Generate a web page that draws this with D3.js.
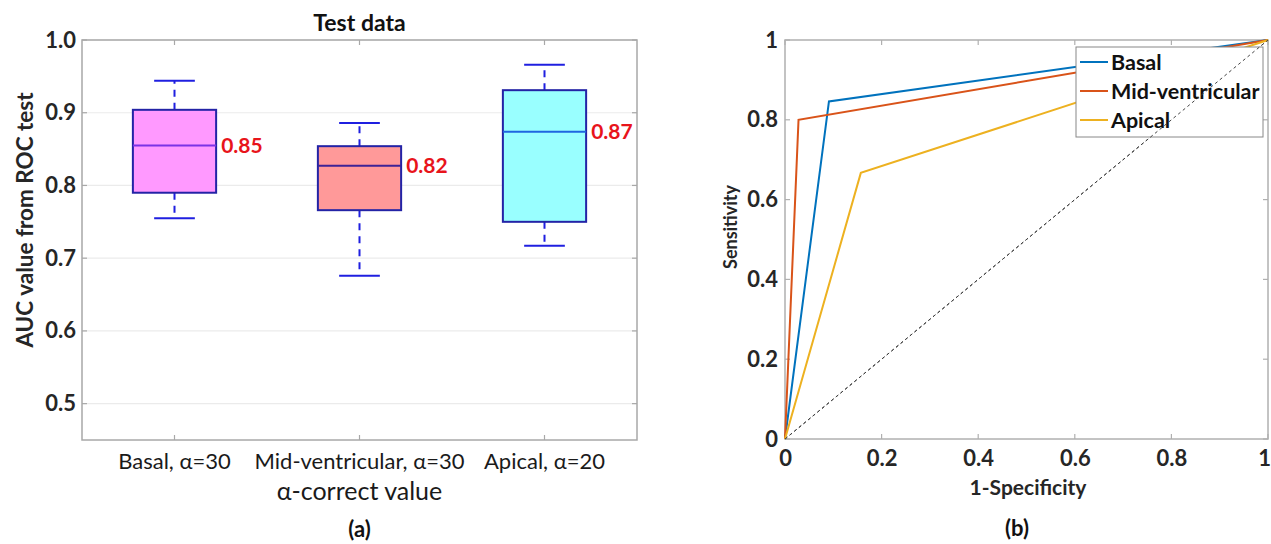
<!DOCTYPE html>
<html>
<head>
<meta charset="utf-8">
<script src="https://cdn.jsdelivr.net/npm/d3@7"></script>
<style>
  body { margin: 0; background: #fff; }
  svg { font-family: Lato, "Open Sans", sans-serif; }
</style>
</head>
<body>
<script>
var width = 1271,
    height = 544;

// box plot data (panel a)
var groups = ["Basal, α=30", "Mid-ventricular, α=30", "Apical, α=20"];
var whiskerLow  = [0.755, 0.676, 0.717];
var q1          = [0.790, 0.766, 0.750];
var median      = [0.855, 0.827, 0.874];
var q3          = [0.904, 0.854, 0.931];
var whiskerHigh = [0.944, 0.886, 0.966];
var medianLabels = ["0.85", "0.82", "0.87"];
var boxFill   = ["#ff99ff", "#ff9999", "#99ffff"];
var medianCol = ["#7a33e6", "#3d2396", "#1f66e0"];
var aTicks = [0.5, 0.6, 0.7, 0.8, 0.9, 1.0];

// ROC curves (panel b)
var rocNames = ["Basal", "Mid-ventricular", "Apical"];
var rocFpr = [[0, 0.091, 1], [0, 0.028, 1], [0, 0.157, 1]];
var rocTpr = [[0, 0.846, 1], [0, 0.800, 1], [0, 0.667, 1]];
var rocColors = ["#0072bd", "#d95319", "#edb120"];
var bTicks = [0, 0.2, 0.4, 0.6, 0.8, 1];

var svg = d3.select("body").append("svg")
    .attr("width", width)
    .attr("height", height);

// *****
// PANEL A
// *****
var ax = {left: 82, right: 637, top: 40, bottom: 440};
var x = d3.scaleLinear().domain([0.5, 3.5]).range([ax.left, ax.right]);
var y = d3.scaleLinear().domain([0.45, 1.0]).range([ax.bottom, ax.top]);

var ga = svg.append("g");

// grid
ga.selectAll("line.grid").data(aTicks).enter().append("line")
  .attr("x1", ax.left).attr("x2", ax.right)
  .attr("y1", function(d) { return y(d); }).attr("y2", function(d) { return y(d); })
  .attr("stroke", "#ebebeb").attr("stroke-width", 1.2);

// frame
ga.append("rect")
  .attr("x", ax.left).attr("y", ax.top)
  .attr("width", ax.right - ax.left).attr("height", ax.bottom - ax.top)
  .attr("fill", "none").attr("stroke", "#a8a8a8").attr("stroke-width", 1.5);

var yAxisA = d3.axisLeft(y).tickValues(aTicks).tickFormat(d3.format(".1f")).tickSize(0).tickPadding(6);
ga.append("g").attr("transform", "translate(" + ax.left + ",0)").call(yAxisA)
  .call(function(g) { g.select(".domain").remove(); })
  .selectAll("text").attr("font-size", 22).attr("font-weight", 700).attr("fill", "#262626")
  .attr("font-family", "Lato, sans-serif");

// small ticks inside, all four sides
ga.selectAll("line.tl").data(aTicks).enter().append("line")
  .attr("x1", ax.left).attr("x2", ax.left + 5)
  .attr("y1", function(d) { return y(d); }).attr("y2", function(d) { return y(d); })
  .attr("stroke", "#a8a8a8").attr("stroke-width", 1.2);
ga.selectAll("line.tr").data(aTicks).enter().append("line")
  .attr("x1", ax.right).attr("x2", ax.right - 5)
  .attr("y1", function(d) { return y(d); }).attr("y2", function(d) { return y(d); })
  .attr("stroke", "#a8a8a8").attr("stroke-width", 1.2);
ga.selectAll("line.tt").data([1, 2, 3]).enter().append("line")
  .attr("x1", function(d) { return x(d); }).attr("x2", function(d) { return x(d); })
  .attr("y1", ax.top).attr("y2", ax.top + 5)
  .attr("stroke", "#a8a8a8").attr("stroke-width", 1.2);
ga.selectAll("line.tb").data([1, 2, 3]).enter().append("line")
  .attr("x1", function(d) { return x(d); }).attr("x2", function(d) { return x(d); })
  .attr("y1", ax.bottom).attr("y2", ax.bottom - 5)
  .attr("stroke", "#a8a8a8").attr("stroke-width", 1.2);

// x category labels
ga.selectAll("text.cat").data(groups).enter().append("text")
  .attr("x", function(d, i) { return x(i + 1); })
  .attr("y", 469)
  .attr("text-anchor", "middle")
  .attr("font-size", 22).attr("fill", "#1a1a1a")
  .text(function(d) { return d; });

// boxes
var boxW = 0.45, capW = 0.22;
var box = ga.selectAll("g.box").data(groups).enter().append("g");

box.append("line") // upper whisker
  .attr("x1", function(d, i) { return x(i + 1); }).attr("x2", function(d, i) { return x(i + 1); })
  .attr("y1", function(d, i) { return y(q3[i]); }).attr("y2", function(d, i) { return y(whiskerHigh[i]); })
  .attr("stroke", "#1f1fe0").attr("stroke-width", 2).attr("stroke-dasharray", "7,6");
box.append("line") // lower whisker
  .attr("x1", function(d, i) { return x(i + 1); }).attr("x2", function(d, i) { return x(i + 1); })
  .attr("y1", function(d, i) { return y(q1[i]); }).attr("y2", function(d, i) { return y(whiskerLow[i]); })
  .attr("stroke", "#1f1fe0").attr("stroke-width", 2).attr("stroke-dasharray", "7,6");
box.append("line") // upper cap
  .attr("x1", function(d, i) { return x(i + 1 - capW / 2); }).attr("x2", function(d, i) { return x(i + 1 + capW / 2); })
  .attr("y1", function(d, i) { return y(whiskerHigh[i]); }).attr("y2", function(d, i) { return y(whiskerHigh[i]); })
  .attr("stroke", "#1f1fe0").attr("stroke-width", 2);
box.append("line") // lower cap
  .attr("x1", function(d, i) { return x(i + 1 - capW / 2); }).attr("x2", function(d, i) { return x(i + 1 + capW / 2); })
  .attr("y1", function(d, i) { return y(whiskerLow[i]); }).attr("y2", function(d, i) { return y(whiskerLow[i]); })
  .attr("stroke", "#1f1fe0").attr("stroke-width", 2);
box.append("rect")
  .attr("x", function(d, i) { return x(i + 1 - boxW / 2); })
  .attr("width", function() { return x(1 + boxW) - x(1); })
  .attr("y", function(d, i) { return y(q3[i]); })
  .attr("height", function(d, i) { return y(q1[i]) - y(q3[i]); })
  .attr("fill", function(d, i) { return boxFill[i]; })
  .attr("stroke", "#2323a6").attr("stroke-width", 2);
box.append("line") // median
  .attr("x1", function(d, i) { return x(i + 1 - boxW / 2); }).attr("x2", function(d, i) { return x(i + 1 + boxW / 2); })
  .attr("y1", function(d, i) { return y(median[i]); }).attr("y2", function(d, i) { return y(median[i]); })
  .attr("stroke", function(d, i) { return medianCol[i]; }).attr("stroke-width", 2);
box.append("text")
  .attr("x", function(d, i) { return x(i + 1 + boxW / 2) + 5; })
  .attr("y", function(d, i) { return y(median[i]); })
  .attr("dy", "0.36em")
  .attr("font-size", 21).attr("font-weight", 700).attr("fill", "#e8141b")
  .text(function(d, i) { return medianLabels[i]; });

ga.append("text")
  .attr("x", (ax.left + ax.right) / 2).attr("y", 31)
  .attr("text-anchor", "middle").attr("font-size", 23).attr("font-weight", 700).attr("fill", "#111")
  .text("Test data");

ga.append("text")
  .attr("transform", "translate(33,220) rotate(-90)")
  .attr("text-anchor", "middle").attr("font-size", 22.5).attr("font-weight", 700).attr("fill", "#262626")
  .text("AUC value from ROC test");

ga.append("text")
  .attr("x", x(2)).attr("y", 500)
  .attr("text-anchor", "middle").attr("font-size", 25).attr("fill", "#1a1a1a")
  .text("α-correct value");

ga.append("text")
  .attr("x", x(2)).attr("y", 537)
  .attr("text-anchor", "middle").attr("font-size", 22).attr("font-weight", 700).attr("fill", "#111")
  .text("(a)");

// *****
// PANEL B
// *****
var bx = {left: 785, right: 1268, top: 40, bottom: 439};
var xb = d3.scaleLinear().domain([0, 1]).range([bx.left, bx.right]);
var yb = d3.scaleLinear().domain([0, 1]).range([bx.bottom, bx.top]);

var gb = svg.append("g");

gb.append("rect")
  .attr("x", bx.left).attr("y", bx.top)
  .attr("width", bx.right - bx.left).attr("height", bx.bottom - bx.top)
  .attr("fill", "none").attr("stroke", "#b0b0b0").attr("stroke-width", 1.5);

gb.selectAll("line.tb").data(bTicks).enter().append("line")
  .attr("x1", function(d) { return xb(d); }).attr("x2", function(d) { return xb(d); })
  .attr("y1", bx.bottom).attr("y2", bx.bottom - 5)
  .attr("stroke", "#b0b0b0").attr("stroke-width", 1.2);
gb.selectAll("line.tt").data(bTicks).enter().append("line")
  .attr("x1", function(d) { return xb(d); }).attr("x2", function(d) { return xb(d); })
  .attr("y1", bx.top).attr("y2", bx.top + 5)
  .attr("stroke", "#b0b0b0").attr("stroke-width", 1.2);
gb.selectAll("line.tl").data(bTicks).enter().append("line")
  .attr("x1", bx.left).attr("x2", bx.left + 5)
  .attr("y1", function(d) { return yb(d); }).attr("y2", function(d) { return yb(d); })
  .attr("stroke", "#b0b0b0").attr("stroke-width", 1.2);
gb.selectAll("line.tr").data(bTicks).enter().append("line")
  .attr("x1", bx.right).attr("x2", bx.right - 5)
  .attr("y1", function(d) { return yb(d); }).attr("y2", function(d) { return yb(d); })
  .attr("stroke", "#b0b0b0").attr("stroke-width", 1.2);

var xAxisB = d3.axisBottom(xb).tickValues(bTicks).tickFormat(d3.format("~g")).tickSize(0).tickPadding(11);
gb.append("g").attr("transform", "translate(0," + bx.bottom + ")").call(xAxisB)
  .call(function(g) { g.select(".domain").remove(); })
  .selectAll("text").attr("font-size", 22).attr("font-weight", 700).attr("fill", "#262626")
  .attr("font-family", "Lato, sans-serif")
  .attr("dx", function(d) { return d === 1 ? -4 : 0; }); // keep the last label inside the page
var yAxisB = d3.axisLeft(yb).tickValues(bTicks).tickFormat(d3.format("~g")).tickSize(0).tickPadding(7);
gb.append("g").attr("transform", "translate(" + bx.left + ",0)").call(yAxisB)
  .call(function(g) { g.select(".domain").remove(); })
  .selectAll("text").attr("font-size", 22).attr("font-weight", 700).attr("fill", "#262626")
  .attr("font-family", "Lato, sans-serif");

// chance line
gb.append("line")
  .attr("x1", xb(0)).attr("y1", yb(0)).attr("x2", xb(1)).attr("y2", yb(1))
  .attr("stroke", "#333").attr("stroke-width", 1).attr("stroke-dasharray", "3,3");

var line = d3.line()
  .x(function(d) { return xb(d[0]); })
  .y(function(d) { return yb(d[1]); });

gb.selectAll("path.roc").data(rocNames).enter().append("path")
  .attr("d", function(d, i) { return line(d3.zip(rocFpr[i], rocTpr[i])); })
  .attr("fill", "none")
  .attr("stroke", function(d, i) { return rocColors[i]; })
  .attr("stroke-width", 2);

// legend: white box, then the chance line drawn again on top of it
var leg = gb.append("g");
leg.append("rect")
  .attr("x", 1076).attr("y", 47).attr("width", 187).attr("height", 90)
  .attr("fill", "#fff").attr("stroke", "#888").attr("stroke-width", 1);
var item = leg.selectAll("g").data(rocNames).enter().append("g")
  .attr("transform", function(d, i) { return "translate(1080," + (62 + i * 29) + ")"; });
item.append("line").attr("x1", 0).attr("x2", 28).attr("y1", 0).attr("y2", 0)
  .attr("stroke", function(d, i) { return rocColors[i]; }).attr("stroke-width", 2);
item.append("text").attr("x", 31).attr("dy", "0.36em")
  .attr("font-size", 21.5).attr("font-weight", 700).attr("fill", "#111")
  .text(function(d) { return d; });
gb.append("line")
  .attr("x1", xb(0)).attr("y1", yb(0)).attr("x2", xb(1)).attr("y2", yb(1))
  .attr("stroke", "#444").attr("stroke-width", 1).attr("stroke-dasharray", "3,3");

gb.append("text")
  .attr("transform", "translate(737,227) rotate(-90)")
  .attr("text-anchor", "middle").attr("font-size", 18).attr("font-weight", 700).attr("fill", "#262626")
  .text("Sensitivity");

gb.append("text")
  .attr("x", 1028).attr("y", 495)
  .attr("text-anchor", "middle").attr("font-size", 21).attr("font-weight", 700).attr("fill", "#262626")
  .text("1-Specificity");

gb.append("text")
  .attr("x", 1017).attr("y", 536)
  .attr("text-anchor", "middle").attr("font-size", 22).attr("font-weight", 700).attr("fill", "#111")
  .text("(b)");
</script>
</body>
</html>
